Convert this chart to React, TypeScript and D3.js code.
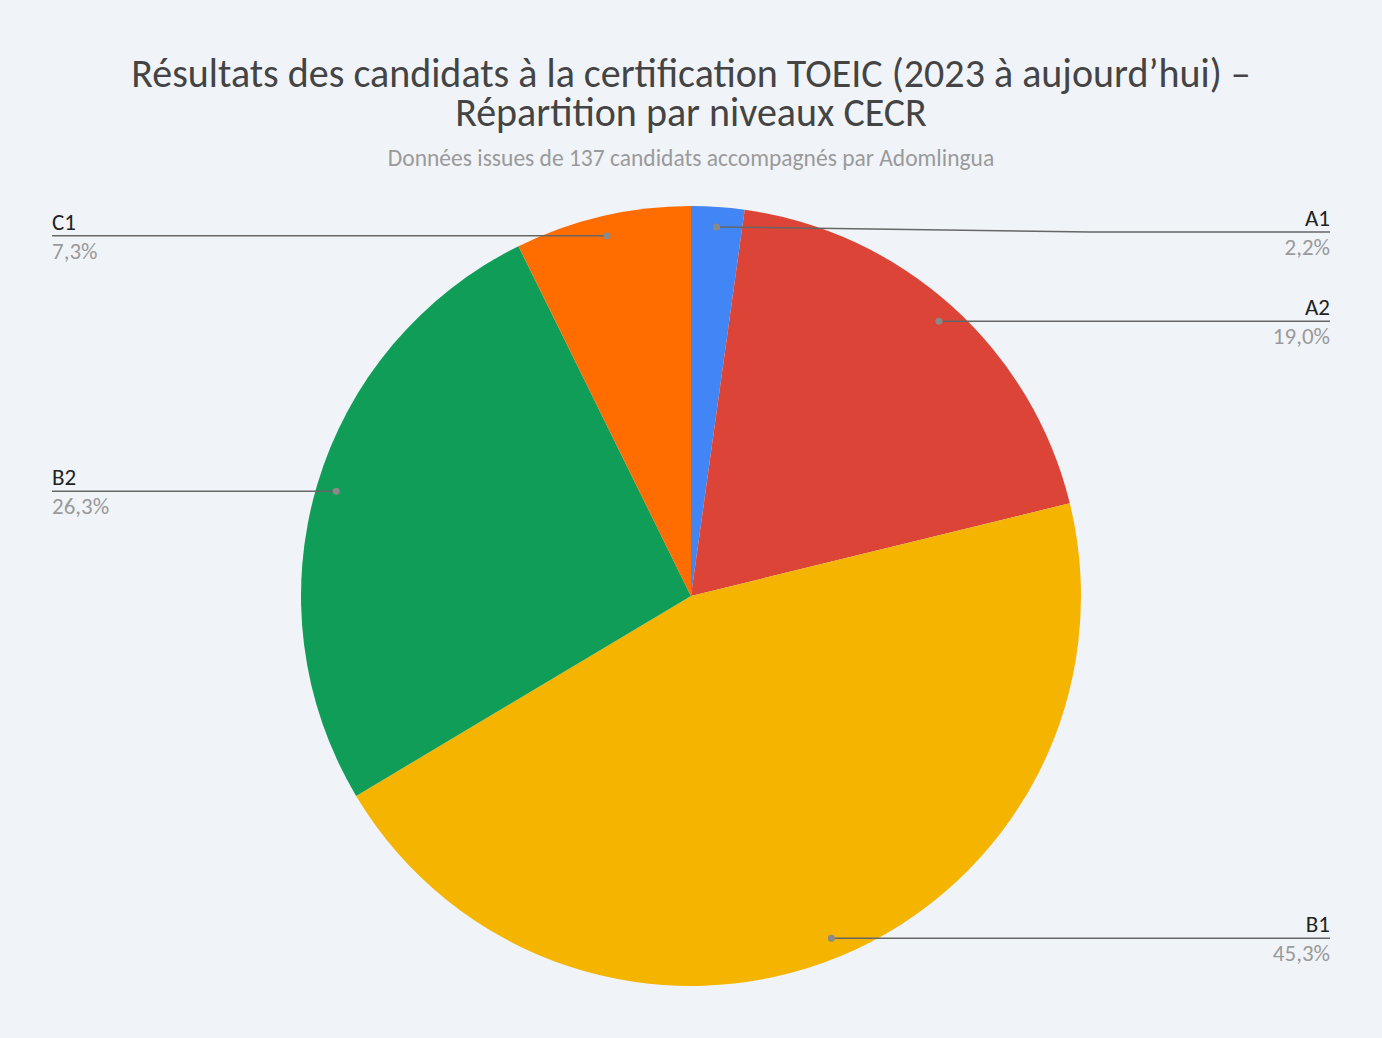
import React, { useEffect, useRef } from 'react';
import * as d3 from 'd3';

const levels = ['A1', 'A2', 'B1', 'B2', 'C1'];
const shares = [2.2, 19.0, 45.3, 26.3, 7.3];
const colors = ['#4285f4', '#db4437', '#f4b400', '#0f9d58', '#ff6d01'];

const titleLines = [
  'Résultats des candidats à la certification TOEIC (2023 à aujourd’hui) –',
  'Répartition par niveaux CECR',
];
const subtitle = 'Données issues de 137 candidats accompagnés par Adomlingua';

const W = 1382;
const H = 1038;

export default function App() {
  const svgRef = useRef<SVGSVGElement>(null);

  useEffect(() => {
    if (!svgRef.current) return;
    const svg = d3.select(svgRef.current);
    svg.selectAll('*').remove();

    const font = "Carlito, Calibri, 'Open Sans', sans-serif";
    const cx = 691;
    const cy = 596;
    const radius = 390;

    svg.append('rect').attr('width', W).attr('height', H).attr('fill', '#f0f4f9');

    // Title
    svg.append('g')
      .selectAll('text')
      .data(titleLines)
      .join('text')
      .attr('x', cx)
      .attr('y', (_, i) => 87 + i * 39)
      .attr('text-anchor', 'middle')
      .attr('font-family', font)
      .attr('font-size', 40)
      .attr('fill', '#444444')
      .text(d => d);

    svg.append('text')
      .attr('x', cx)
      .attr('y', 166)
      .attr('text-anchor', 'middle')
      .attr('font-family', font)
      .attr('font-size', 23.5)
      .attr('fill', '#9a9a9a')
      .text(subtitle);

    const items = levels.map((l, i) => ({ level: l, value: shares[i], color: colors[i] }));

    const pie = d3.pie<typeof items[0]>().value(d => d.value).sort(null);
    const arcs = pie(items);

    const arc = d3.arc<d3.PieArcDatum<typeof items[0]>>().innerRadius(0).outerRadius(radius);
    const dotArc = d3.arc<d3.PieArcDatum<typeof items[0]>>().innerRadius(370).outerRadius(370);

    const g = svg.append('g').attr('transform', `translate(${cx},${cy})`);

    g.selectAll('path')
      .data(arcs)
      .join('path')
      .attr('d', arc)
      .attr('fill', d => d.data.color);

    // Leader lines and labels
    const leftX = 52 - cx;
    const rightX = 1330 - cx;
    const minY = 232 - cy;

    arcs.forEach(a => {
      const [px, py] = dotArc.centroid(a);
      const mid = (a.startAngle + a.endAngle) / 2;
      const right = mid < Math.PI;
      const ly = Math.max(py, minY);
      const ex = right ? rightX : leftX;
      const bend = right ? 1090 - cx : px;
      const pts: [number, number][] = [[px, py], [bend, ly], [ex, ly]];

      g.append('path')
        .attr('d', d3.line()(pts))
        .attr('fill', 'none')
        .attr('stroke', '#666666')
        .attr('stroke-width', 1.5);

      g.append('circle')
        .attr('cx', px)
        .attr('cy', py)
        .attr('r', 3.5)
        .attr('fill', '#8a8a8a');

      const anchor = right ? 'end' : 'start';
      g.append('text')
        .attr('x', ex)
        .attr('y', ly - 6)
        .attr('text-anchor', anchor)
        .attr('font-family', font)
        .attr('font-size', 23)
        .attr('fill', '#222222')
        .text(a.data.level);

      g.append('text')
        .attr('x', ex)
        .attr('y', ly + 23)
        .attr('text-anchor', anchor)
        .attr('font-family', font)
        .attr('font-size', 23)
        .attr('fill', '#9a9a9a')
        .text(`${a.data.value.toFixed(1).replace('.', ',')}%`);
    });
  }, []);

  return (
    <div style={{ position: 'fixed', left: 0, top: 0, width: W, height: H, background: '#f0f4f9' }}>
      <svg ref={svgRef} width={W} height={H} style={{ display: 'block' }} />
    </div>
  );
}
